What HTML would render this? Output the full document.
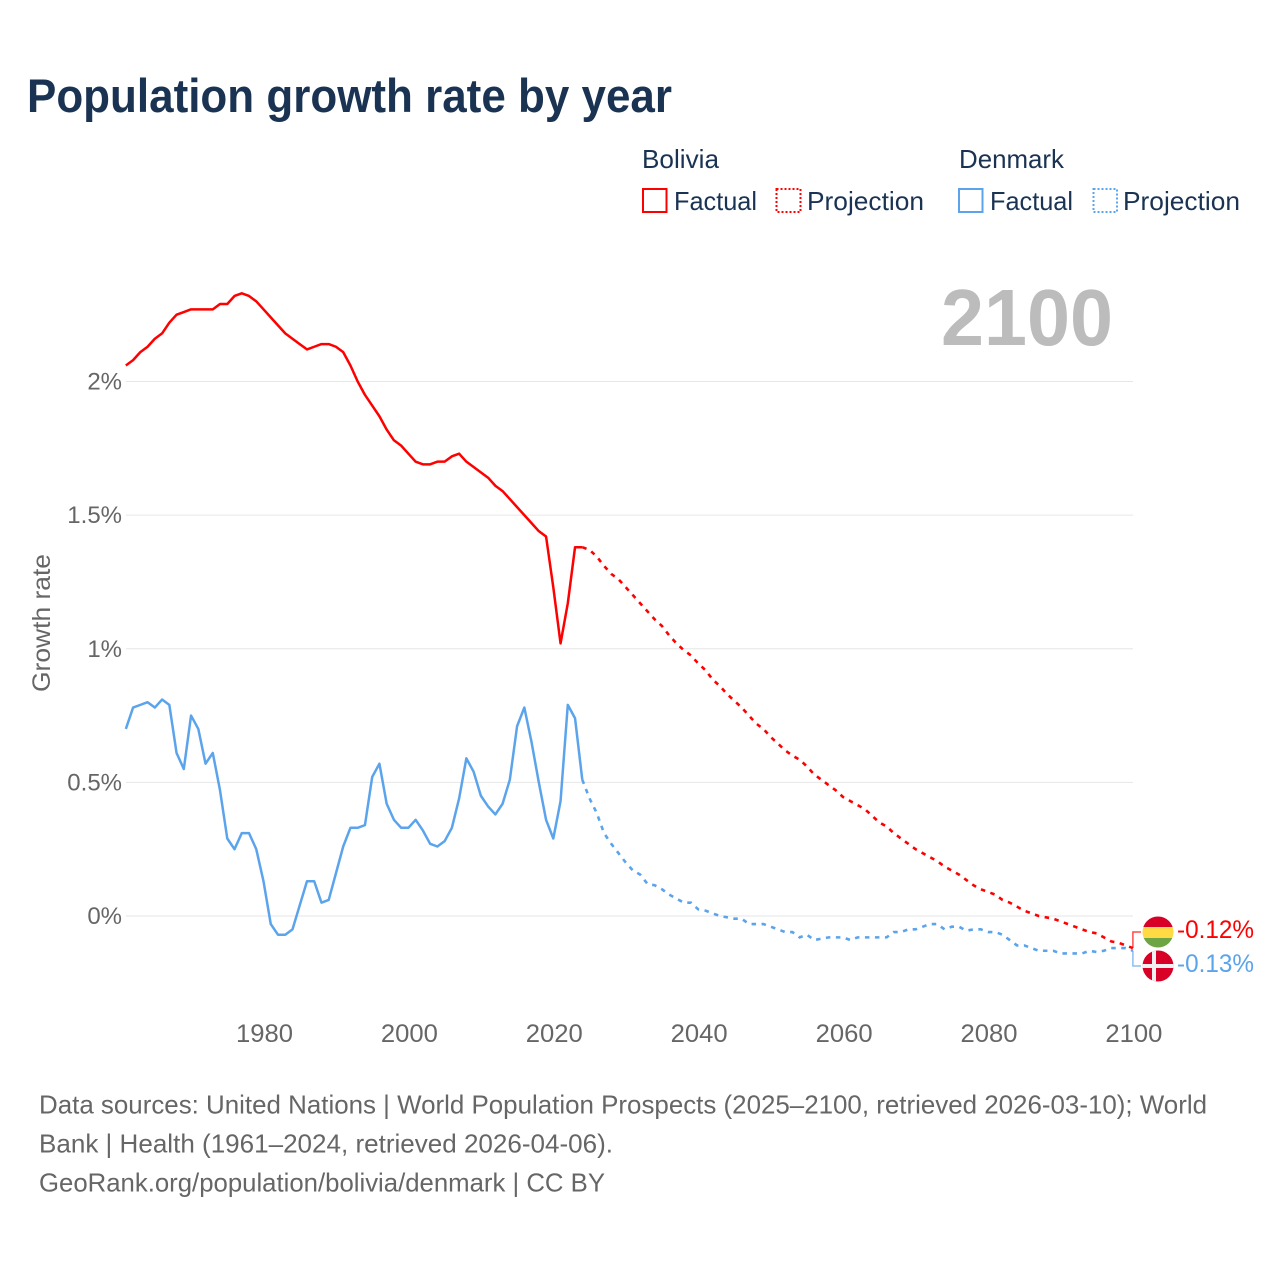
<!DOCTYPE html>
<html lang="en">
<head>
<meta charset="utf-8">
<title>Population growth rate by year</title>
<style>
html,body{margin:0;padding:0;background:#fff}
svg{display:block}
text{font-family:"Liberation Sans",sans-serif}
.ink{fill:#1a3353}
.muted{fill:#666}
</style>
</head>
<body>
<svg id="chart" xmlns="http://www.w3.org/2000/svg" width="1280" height="1280" viewBox="0 0 1280 1280">
  <rect x="0" y="0" width="1280" height="1280" fill="#fff"/>
  <text class="ink" x="27" y="112" font-size="47" font-weight="700" textLength="645" lengthAdjust="spacingAndGlyphs">Population growth rate by year</text>

  <g>
    <text class="ink" x="642" y="168" font-size="26" textLength="77" lengthAdjust="spacingAndGlyphs">Bolivia</text>
    <text class="ink" x="959" y="168" font-size="26" textLength="105" lengthAdjust="spacingAndGlyphs">Denmark</text>
    <g>
      <rect x="643" y="189" width="23.5" height="23" fill="none" stroke="#ff0000" stroke-width="2"/>
      <text class="ink" x="674" y="210" font-size="26" textLength="83" lengthAdjust="spacingAndGlyphs">Factual</text>
    </g>
    <g>
      <rect x="776.5" y="189" width="24" height="23" fill="none" stroke="#ff0000" stroke-width="2" stroke-dasharray="2 2"/>
      <text class="ink" x="807" y="210" font-size="26" textLength="117" lengthAdjust="spacingAndGlyphs">Projection</text>
    </g>
    <g>
      <rect x="959" y="189" width="23.5" height="23" fill="none" stroke="#5ba4ec" stroke-width="2"/>
      <text class="ink" x="990" y="210" font-size="26" textLength="83" lengthAdjust="spacingAndGlyphs">Factual</text>
    </g>
    <g>
      <rect x="1093.5" y="189" width="23.5" height="23" fill="none" stroke="#5ba4ec" stroke-width="2" stroke-dasharray="2 2"/>
      <text class="ink" x="1123" y="210" font-size="26" textLength="117" lengthAdjust="spacingAndGlyphs">Projection</text>
    </g>
  </g>

  <text class="muted" transform="translate(50 692) rotate(-90)" x="0" y="0" font-size="25" textLength="138" lengthAdjust="spacingAndGlyphs">Growth rate</text>
  <g id="grid"></g>
  <g id="yticks"></g>
  <g id="xticks"></g>
  <text x="941" y="345" font-size="80" font-weight="700" fill="#bcbcbc" textLength="172" lengthAdjust="spacingAndGlyphs">2100</text>
  <g id="series"></g>

  <g>
    <path id="connector-bolivia" fill="none" stroke="#ff0000" stroke-opacity="0.7" stroke-width="1.5"/>
    <clipPath id="clip-bo"><circle cx="1158" cy="932" r="15.5"/></clipPath>
    <g clip-path="url(#clip-bo)">
      <rect x="1142" y="916" width="32" height="11" fill="#d80027"/>
      <rect x="1142" y="927" width="32" height="11" fill="#ffda44"/>
      <rect x="1142" y="938" width="32" height="11" fill="#6da544"/>
    </g>
    <text x="1177" y="938" font-size="25" fill="#ff0000" textLength="77" lengthAdjust="spacingAndGlyphs">-0.12%</text>
  </g>
  <g>
    <path id="connector-denmark" fill="none" stroke="#5ba4ec" stroke-opacity="0.7" stroke-width="1.5"/>
    <clipPath id="clip-dk"><circle cx="1158" cy="966" r="15.5"/></clipPath>
    <g clip-path="url(#clip-dk)">
      <rect x="1142" y="950" width="32" height="32" fill="#d80027"/>
      <rect x="1152" y="950" width="4" height="32" fill="#f0f0f0"/>
      <rect x="1142" y="964" width="32" height="4" fill="#f0f0f0"/>
    </g>
    <text x="1177" y="972" font-size="25" fill="#5ba4ec" textLength="77" lengthAdjust="spacingAndGlyphs">-0.13%</text>
  </g>

  <g>
    <text class="muted" x="39" y="1113.5" font-size="26" textLength="1168" lengthAdjust="spacingAndGlyphs">Data sources: United Nations | World Population Prospects (2025–2100, retrieved 2026-03-10); World</text>
    <text class="muted" x="39" y="1152.5" font-size="26" textLength="574" lengthAdjust="spacingAndGlyphs">Bank | Health (1961–2024, retrieved 2026-04-06).</text>
    <text class="muted" x="39" y="1191.5" font-size="26" textLength="566" lengthAdjust="spacingAndGlyphs">GeoRank.org/population/bolivia/denmark | CC BY</text>
  </g>
</svg>
<script>
// Data (percent growth per year)
const factualStartYear = 1961;
const projectionStartYear = 2024;
const boliviaFactual = [2.06,2.08,2.11,2.13,2.16,2.18,2.22,2.25,2.26,2.27,2.27,2.27,2.27,2.29,2.29,2.32,2.33,2.32,2.30,2.27,2.24,2.21,2.18,2.16,2.14,2.12,2.13,2.14,2.14,2.13,2.11,2.06,2.00,1.95,1.91,1.87,1.82,1.78,1.76,1.73,1.70,1.69,1.69,1.70,1.70,1.72,1.73,1.70,1.68,1.66,1.64,1.61,1.59,1.56,1.53,1.50,1.47,1.44,1.42,1.23,1.02,1.17,1.38,1.38];
const boliviaProjection = [1.38,1.37,1.345,1.31,1.28,1.26,1.23,1.20,1.17,1.14,1.11,1.085,1.05,1.02,0.995,0.975,0.945,0.92,0.885,0.86,0.83,0.805,0.78,0.75,0.72,0.70,0.67,0.645,0.62,0.60,0.585,0.56,0.53,0.51,0.49,0.47,0.445,0.43,0.415,0.40,0.375,0.35,0.335,0.31,0.29,0.27,0.25,0.235,0.22,0.205,0.185,0.17,0.155,0.135,0.115,0.10,0.09,0.08,0.06,0.05,0.035,0.02,0.01,0.00,-0.005,-0.01,-0.02,-0.03,-0.04,-0.05,-0.06,-0.065,-0.08,-0.095,-0.10,-0.11,-0.12];
const denmarkFactual = [0.70,0.78,0.79,0.80,0.78,0.81,0.79,0.61,0.55,0.75,0.70,0.57,0.61,0.47,0.29,0.25,0.31,0.31,0.25,0.13,-0.03,-0.07,-0.07,-0.05,0.04,0.13,0.13,0.05,0.06,0.16,0.26,0.33,0.33,0.34,0.52,0.57,0.42,0.36,0.33,0.33,0.36,0.32,0.27,0.26,0.28,0.33,0.44,0.59,0.54,0.45,0.41,0.38,0.42,0.51,0.71,0.78,0.65,0.50,0.36,0.29,0.43,0.79,0.74,0.51];
const denmarkProjection = [0.51,0.44,0.385,0.31,0.27,0.235,0.20,0.17,0.155,0.12,0.115,0.10,0.08,0.065,0.05,0.05,0.025,0.02,0.01,0.00,-0.005,-0.01,-0.01,-0.03,-0.03,-0.03,-0.04,-0.05,-0.06,-0.06,-0.08,-0.07,-0.09,-0.085,-0.08,-0.08,-0.08,-0.09,-0.08,-0.08,-0.08,-0.08,-0.08,-0.06,-0.06,-0.05,-0.05,-0.04,-0.03,-0.03,-0.05,-0.04,-0.04,-0.055,-0.05,-0.05,-0.06,-0.06,-0.07,-0.09,-0.11,-0.11,-0.12,-0.13,-0.13,-0.13,-0.14,-0.14,-0.14,-0.14,-0.13,-0.135,-0.13,-0.12,-0.12,-0.12,-0.13];
const xTickYears = [1980,2000,2020,2040,2060,2080,2100];
const yTickValues = [0,0.5,1,1.5,2];
const yTickLabels = ["0%","0.5%","1%","1.5%","2%"];

// Axis functions
const xScale = year => 1132.9 - (2100 - year) * 7.245;
const yScale = value => 916 - value * 267.25;
const NS = "http://www.w3.org/2000/svg";
const linePath = (values, startYear) => values.map((v, i) =>
  (i ? "L" : "M") + xScale(startYear + i).toFixed(2) + " " + yScale(v).toFixed(2)).join("");

const grid = document.getElementById("grid");
const yticks = document.getElementById("yticks");
yTickValues.forEach((v, i) => {
  const line = document.createElementNS(NS, "line");
  
  
  line.setAttribute("x1", xScale(1961));
  line.setAttribute("x2", xScale(2100));
  line.setAttribute("y1", yScale(v));
  line.setAttribute("y2", yScale(v));
  line.setAttribute("stroke", "#e6e6e6");
  line.setAttribute("stroke-width", "1");
  grid.appendChild(line);
  const label = document.createElementNS(NS, "text");
  
  
  label.setAttribute("x", 122);
  label.setAttribute("y", yScale(v) + 8);
  label.setAttribute("text-anchor", "end");
  label.setAttribute("font-size", "24");
  label.setAttribute("class", "muted");
  label.textContent = yTickLabels[i];
  yticks.appendChild(label);
});

const xticks = document.getElementById("xticks");
xTickYears.forEach(year => {
  const label = document.createElementNS(NS, "text");
  
  
  label.setAttribute("x", xScale(year) + 1);
  label.setAttribute("y", 1042);
  label.setAttribute("text-anchor", "middle");
  label.setAttribute("font-size", "25");
  label.setAttribute("textLength", "57");
  label.setAttribute("lengthAdjust", "spacingAndGlyphs");
  label.setAttribute("class", "muted");
  label.textContent = String(year);
  xticks.appendChild(label);
});

const seriesGroup = document.getElementById("series");

const denmarkProjLine = document.createElementNS(NS, "path");


denmarkProjLine.setAttribute("d", linePath(denmarkProjection, projectionStartYear));
denmarkProjLine.setAttribute("fill", "none");
denmarkProjLine.setAttribute("stroke", "#5ba4ec");
denmarkProjLine.setAttribute("stroke-width", "2.6");
denmarkProjLine.setAttribute("stroke-dasharray", "4.5 5.5");
seriesGroup.appendChild(denmarkProjLine);

const boliviaProjLine = document.createElementNS(NS, "path");


boliviaProjLine.setAttribute("d", linePath(boliviaProjection, projectionStartYear));
boliviaProjLine.setAttribute("fill", "none");
boliviaProjLine.setAttribute("stroke", "#ff0000");
boliviaProjLine.setAttribute("stroke-width", "2.6");
boliviaProjLine.setAttribute("stroke-dasharray", "4.5 5.5");
seriesGroup.appendChild(boliviaProjLine);

const denmarkFactLine = document.createElementNS(NS, "path");


denmarkFactLine.setAttribute("d", linePath(denmarkFactual, factualStartYear));
denmarkFactLine.setAttribute("fill", "none");
denmarkFactLine.setAttribute("stroke", "#5ba4ec");
denmarkFactLine.setAttribute("stroke-width", "2.5");
denmarkFactLine.setAttribute("stroke-linejoin", "round");
seriesGroup.appendChild(denmarkFactLine);

const boliviaFactLine = document.createElementNS(NS, "path");


boliviaFactLine.setAttribute("d", linePath(boliviaFactual, factualStartYear));
boliviaFactLine.setAttribute("fill", "none");
boliviaFactLine.setAttribute("stroke", "#ff0000");
boliviaFactLine.setAttribute("stroke-width", "2.5");
boliviaFactLine.setAttribute("stroke-linejoin", "round");
seriesGroup.appendChild(boliviaFactLine);

// End-of-line connectors follow the final data value
const endX = xScale(2100);
const boEnd = yScale(boliviaProjection[boliviaProjection.length - 1]);
const dkEnd = yScale(denmarkProjection[denmarkProjection.length - 1]);
document.getElementById("connector-bolivia").setAttribute("d", "M" + endX + " " + boEnd + "V932H1141");
document.getElementById("connector-denmark").setAttribute("d", "M" + endX + " " + dkEnd + "V966H1141");
</script>
</body>
</html>
